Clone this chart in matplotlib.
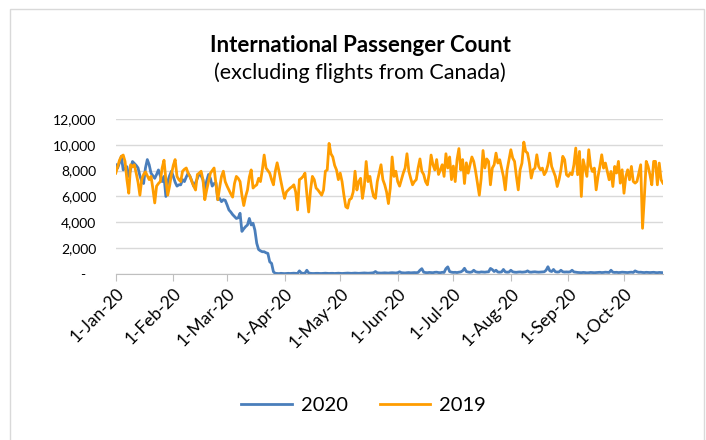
import numpy as np
import pandas as pd
import matplotlib
matplotlib.use("Agg")
import matplotlib.pyplot as plt
import matplotlib.dates as mdates
from matplotlib.patches import Rectangle

plt.rcParams['font.family'] = ['Lato', 'DejaVu Sans']

# daily passenger counts, 1-Jan onwards (2019 aligned by day of year)
pax_2020 = [
    8450, 8200, 8600, 9100, 8050, 8200, 8300, 7550, 8100, 8700,
    8550, 8400, 8200, 7600, 7150, 7000, 8200, 8850, 8450, 7800,
    7600, 7400, 7700, 8050, 7600, 7150, 7550, 6000, 7150, 7600,
    7950, 7550, 7100, 6800, 6900, 6900, 7300, 7150, 7500, 7800,
    7550, 7200, 6800, 7050, 7400, 7800, 7600, 7300, 6500, 7200,
    7700, 7400, 6800, 7000, 7050, 5750, 5850, 5600, 5750, 5700,
    5350, 4960, 4800, 4600, 4450, 4300, 4350, 4700, 3300, 3500,
    3670, 3800, 4300, 3800, 3930, 3400, 2380, 1900, 1800, 1730,
    1730, 1650, 1600, 950, 830, 180, 60, 50, 40,
    60, 50, 40, 50, 60, 50, 60, 70, 60, 50,
    250, 90, 60, 70, 300, 90, 60, 50, 50, 60,
    60, 50, 50, 60, 70, 60, 50, 60, 60, 50,
    60, 70, 60, 50, 60, 70, 80, 70, 60, 70,
    80, 70, 60, 70, 80, 90, 80, 70, 80, 90,
    110, 200, 100, 90, 80, 90, 100, 90, 80, 100,
    110, 100, 90, 110, 180, 110, 100, 90, 110, 120,
    100, 110, 120, 110, 130, 300, 420, 150, 120, 110,
    130, 120, 110, 140, 150, 120, 110, 140, 130, 420,
    560, 200, 150, 130, 140, 120, 150, 170, 260, 450,
    200, 160, 140, 170, 300, 180, 150, 140, 170, 160,
    150, 170, 180, 440, 350, 200, 300, 160, 150, 170,
    360, 170, 150, 160, 300, 180, 150, 140, 160, 170,
    150, 160, 180, 250, 160, 150, 170, 180, 160, 150,
    160, 170, 180, 300, 570, 250, 200, 360, 180, 160,
    170, 300, 180, 160, 170, 160, 180, 300, 170, 150,
    130, 120, 110, 130, 120, 100, 110, 130, 120, 110,
    120, 130, 140, 120, 130, 150, 140, 130, 300, 150,
    130, 140, 120, 130, 150, 140, 130, 120, 140, 150,
    130, 250, 180, 140, 150, 130, 120, 140, 130, 120,
    130, 140, 120, 110, 130, 120, 110,
]

pax_2019 = [
    7800, 8300, 8800, 9100, 9200, 8700, 7300, 6250, 8450, 8300,
    8450, 7800, 7100, 6100, 7300, 7700, 7900, 7600, 7300, 7550,
    6600, 5500, 6800, 7000, 7150, 8200, 8800, 7300, 6100, 6800,
    7700, 8400, 8850, 7550, 7300, 7150, 7950, 8100, 8200, 7800,
    7550, 7150, 6800, 6500, 7700, 7800, 7950, 7300, 5750, 6500,
    7150, 7800, 8000, 8200, 7000, 5750, 6700, 7550, 7950, 7150,
    6800, 6500, 6200, 5950, 7000, 7550, 7400, 7150, 6100, 5300,
    6000, 6500, 7500, 8050, 6650, 6800, 6900, 7400, 7150, 8050,
    9200, 8200, 8000, 7800, 7300, 6900, 7950, 8600, 7950, 7200,
    6500, 5850, 6350, 6500, 6650, 6750, 6900, 6350, 4960, 7300,
    7400, 7550, 7800, 6200, 4800, 6500, 7550, 7300, 6650, 6500,
    6300, 6100, 6500, 7950, 8050, 10100, 9300, 9050, 8400, 8050,
    7300, 7800, 7150, 6100, 5200, 5100, 5750, 5850, 6350, 7950,
    6500, 7150, 7400, 5850, 6800, 8700, 7150, 7550, 6650, 6000,
    5850, 7150, 7800, 8450, 7300, 6900, 6350, 5450, 6650, 9050,
    7550, 7950, 7150, 6800, 7300, 7800, 8200, 9300, 7950, 7400,
    6900, 7150, 7300, 8200, 8900, 7950, 7700, 7150, 6900, 7800,
    9200, 8450, 8050, 8850, 7700, 8050, 8450, 7550, 9300, 8200,
    9050, 7300, 8350, 7150, 8850, 9700, 8050, 8850, 7000, 8600,
    7800, 8450, 9050, 8700, 7950, 7000, 6100, 7400, 9550, 8200,
    8900, 8700, 6900, 8190, 8450, 9350, 8580, 8840, 8190, 7550,
    6510, 8060, 8840, 9610, 8970, 8710, 7550, 6510, 8060, 8580,
    10200, 9480, 9350, 8580, 7420, 8060, 8190, 9220, 8320, 8060,
    8190, 7680, 7930, 8450, 9350, 8320, 7930, 7550, 6770, 7290,
    8060, 9100, 8840, 7680, 7550, 7810, 7680, 8450, 9740, 7680,
    9480, 6000, 8840, 8190, 7550, 9610, 8320, 7930, 8190, 6510,
    7550, 8320, 9220, 8190, 8580, 7930, 7290, 7930, 6770, 8320,
    7810, 8710, 7030, 8060, 6250, 7550, 8060, 7290, 8320, 7160,
    7030, 7160, 7810, 8450, 3540, 6000, 8710, 8320, 7680, 6900,
    8710, 8710, 6900, 8580, 7290, 7030,
]

y_ticks = [0, 2000, 4000, 6000, 8000, 10000, 12000]
y_labels = ["-   ", "2,000", "4,000", "6,000", "8,000", "10,000", "12,000"]

dates_2020 = pd.date_range("2020-01-01", periods=len(pax_2020), freq="D")
dates_2019 = pd.date_range("2020-01-01", periods=len(pax_2019), freq="D")

fig = plt.figure(figsize=(7.06, 4.40), dpi=100)
ax = fig.add_axes([0.164, 0.377, 0.775, 0.353])

# chart area border like Excel
fig.patches.append(Rectangle((10 / 706, -0.01), 694 / 706, 1 - 9 / 440 + 0.01,
                             transform=fig.transFigure, fill=False,
                             edgecolor="#d9d9d9", linewidth=1.0))

ax.plot(dates_2020, pax_2020, color="#4a7ebb", lw=2.0, label="2020")
ax.plot(dates_2019, pax_2019, color="#ff9d00", lw=2.0, label="2019")

ax.set_ylim(0, 12000)
ax.set_xlim(dates_2019[0], dates_2019[-1])
ax.set_yticks(y_ticks)
ax.set_yticklabels(y_labels)
ax.grid(axis="y", color="#d9d9d9", lw=1.0)
ax.set_axisbelow(True)

ax.xaxis.set_major_locator(mdates.MonthLocator())
ax.xaxis.set_major_formatter(mdates.DateFormatter("1-%b-%y"))
plt.setp(ax.get_xticklabels(), rotation=45, ha="right", rotation_mode="anchor")

for s in ["top", "right", "left"]:
    ax.spines[s].set_visible(False)
ax.spines["bottom"].set_color("#bfbfbf")
ax.tick_params(axis="y", length=0, pad=14, labelsize=10)
ax.tick_params(axis="x", length=5, color="#bfbfbf", labelsize=12.5, pad=3)

fig.text(0.51, 0.897, "International Passenger Count", ha="center", va="center",
         fontsize=16, fontweight="bold")
fig.text(0.51, 0.835, "(excluding flights from Canada)", ha="center", va="center",
         fontsize=15.5)

fig.legend(loc="center", bbox_to_anchor=(0.515, 0.078), ncol=2, frameon=False,
           fontsize=14.5, handlelength=2.5, columnspacing=1.6, handletextpad=0.45)

fig.savefig("out.png", dpi=100, facecolor="white")
